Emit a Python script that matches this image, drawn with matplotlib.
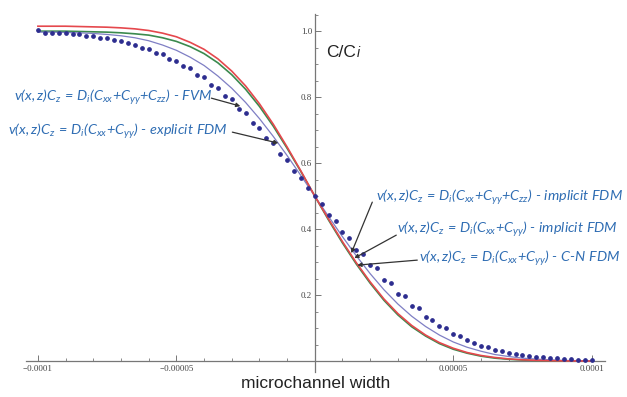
import numpy as np
import matplotlib
matplotlib.use("Agg")
import matplotlib.pyplot as plt
from matplotlib.ticker import MultipleLocator, FixedLocator

# ---------------- data ----------------
x_line = [-1.0e-4, -9.5e-5, -9.0e-5, -8.5e-5, -8.0e-5, -7.5e-5, -7.0e-5, -6.5e-5, -6.0e-5, -5.5e-5,
          -5.0e-5, -4.5e-5, -4.0e-5, -3.5e-5, -3.0e-5, -2.5e-5, -2.0e-5, -1.5e-5, -1.0e-5, -5.0e-6,
          0.0, 5.0e-6, 1.0e-5, 1.5e-5, 2.0e-5, 2.5e-5, 3.0e-5, 3.5e-5, 4.0e-5, 4.5e-5,
          5.0e-5, 5.5e-5, 6.0e-5, 6.5e-5, 7.0e-5, 7.5e-5, 8.0e-5, 8.5e-5, 9.0e-5, 9.5e-5, 1.0e-4]

red_vals = [1.015, 1.015, 1.015, 1.014, 1.013, 1.012, 1.010, 1.007, 1.002, 0.994,
            0.983, 0.966, 0.945, 0.916, 0.879, 0.834, 0.780, 0.718, 0.649, 0.576,
            0.500, 0.430, 0.362, 0.298, 0.240, 0.188, 0.144, 0.108, 0.079, 0.056,
            0.039, 0.026, 0.017, 0.011, 0.0067, 0.0040, 0.0023, 0.0013, 0.0007, 0.0004, 0.0002]

green_vals = [1.000, 1.000, 1.000, 0.999, 0.998, 0.997, 0.995, 0.992, 0.988, 0.980,
              0.969, 0.953, 0.932, 0.904, 0.868, 0.824, 0.772, 0.712, 0.645, 0.574,
              0.500, 0.427, 0.358, 0.294, 0.236, 0.184, 0.140, 0.104, 0.076, 0.053,
              0.036, 0.024, 0.015, 0.009, 0.0055, 0.0032, 0.0018, 0.0010, 0.0005, 0.0003, 0.0001]

purple_vals = [0.997, 0.997, 0.996, 0.995, 0.993, 0.990, 0.986, 0.980, 0.971, 0.958,
               0.942, 0.921, 0.896, 0.864, 0.827, 0.784, 0.735, 0.681, 0.623, 0.562,
               0.500, 0.438, 0.377, 0.319, 0.265, 0.216, 0.173, 0.136, 0.105, 0.079,
               0.058, 0.042, 0.030, 0.020, 0.014, 0.009, 0.006, 0.004, 0.0023, 0.0014, 0.0008]

x_dots = [-1.0e-4 + 2.5e-6 * i for i in range(81)]
dot_vals = [1.005, 0.994, 0.995, 0.993, 0.994, 0.991, 0.990, 0.986, 0.985, 0.980,
            0.978, 0.972, 0.969, 0.963, 0.959, 0.950, 0.946, 0.935, 0.930, 0.917,
            0.910, 0.893, 0.888, 0.868, 0.860, 0.836, 0.828, 0.802, 0.793, 0.765,
            0.752, 0.722, 0.708, 0.676, 0.660, 0.628, 0.608, 0.577, 0.556, 0.524,
            0.500, 0.476, 0.444, 0.425, 0.391, 0.372, 0.338, 0.325, 0.291, 0.282,
            0.246, 0.238, 0.204, 0.197, 0.168, 0.160, 0.134, 0.126, 0.106, 0.100,
            0.082, 0.075, 0.063, 0.056, 0.047, 0.042, 0.035, 0.031, 0.025, 0.022,
            0.018, 0.016, 0.012, 0.011, 0.008, 0.008, 0.006, 0.005, 0.004, 0.003, 0.003]

x_ticks_major = [-1.0e-4, -5.0e-5, 5.0e-5, 1.0e-4]
x_tick_labels = ["\u22120.0001", "\u22120.00005", "0.00005", "0.0001"]
y_ticks_major = [0.2, 0.4, 0.6, 0.8, 1.0]
y_tick_labels = ["0.2", "0.4", "0.6", "0.8", "1.0"]

labels = [
    r"$v(x,z)C_z\,=\,D_i(C_{xx}{+}C_{yy}{+}C_{zz})\ \text{-}\ FVM$",
    r"$v(x,z)C_z\,=\,D_i(C_{xx}{+}C_{yy})\ \text{-}\ explicit\ FDM$",
    r"$v(x,z)C_z\,=\,D_i(C_{xx}{+}C_{yy}{+}C_{zz})\ \text{-}\ implicit\ FDM$",
    r"$v(x,z)C_z\,=\,D_i(C_{xx}{+}C_{yy})\ \text{-}\ implicit\ FDM$",
    r"$v(x,z)C_z\,=\,D_i(C_{xx}{+}C_{yy})\ \text{-}\ C\text{-}N\ FDM$",
]

# ---------------- style ----------------
plt.rcParams['mathtext.fontset'] = 'custom'
plt.rcParams['mathtext.rm'] = 'Lato:italic'
plt.rcParams['mathtext.it'] = 'Lato:italic'
plt.rcParams['mathtext.bf'] = 'Lato:italic:bold'

W, H = 627, 397
fig = plt.figure(figsize=(W / 100, H / 100), dpi=100)
fig.patch.set_facecolor('white')
ax = fig.add_axes([26 / W, (H - 372) / H, 579 / W, 358 / H])
ax.set_facecolor('none')

ax.set_xlim(-1.043e-4, 1.048e-4)
ax.set_ylim(-0.033, 1.052)

for s in ['top', 'right']:
    ax.spines[s].set_visible(False)
ax.spines['left'].set_position(('data', 0))
ax.spines['bottom'].set_position(('data', 0))
for s in ['left', 'bottom']:
    ax.spines[s].set_color('#777777')
    ax.spines[s].set_linewidth(0.9)

ax.xaxis.set_major_locator(FixedLocator(x_ticks_major))
ax.xaxis.set_minor_locator(MultipleLocator(1e-5))
ax.set_xticklabels(x_tick_labels)
ax.yaxis.set_major_locator(FixedLocator(y_ticks_major))
ax.yaxis.set_minor_locator(MultipleLocator(0.05))
ax.set_yticklabels(y_tick_labels)
ax.tick_params(axis='x', which='both', direction='in', colors='#777777', labelcolor='#444444',
               labelsize=6.5, pad=3)
ax.tick_params(axis='y', which='both', direction='in', colors='#777777', labelcolor='#444444',
               labelsize=6.5, pad=2)
ax.tick_params(which='major', length=4, width=0.7)
ax.tick_params(which='minor', length=2.5, width=0.6)
for lab in ax.get_xticklabels() + ax.get_yticklabels():
    lab.set_fontfamily('Liberation Serif')

# ---------------- marks ----------------
ax.plot(x_line, green_vals, color='#3b8a4e', lw=1.2, zorder=3)
ax.plot(x_line, red_vals, color='#e5484d', lw=1.2, zorder=4)
ax.plot(x_line, purple_vals, color='#7f7fc4', lw=0.9, zorder=3)
ax.plot(x_dots, dot_vals, linestyle='none', marker='o', ms=2.4, color='#2d2d8f', zorder=5)

# ---------------- text ----------------
def d(px, py):
    return ((px - 315.5) / 2.77e6, (361 - py) / 330.0)

blue = '#2f6db3'
text_pos = [(15, 97), (9, 131), (377, 197), (398, 229), (420, 258)]
arrows = [((212, 98), (241, 106)),
          ((233, 132), (279, 143)),
          ((373, 202), (352, 253)),
          ((397, 235), (355, 258)),
          ((418, 260), (358, 265))]
for lab, (tx, ty) in zip(labels, text_pos):
    ax.text(*d(tx, ty), lab, color=blue, fontsize=10.4, ha='left', va='center', zorder=6)
for (t0, t1) in arrows:
    ax.annotate('', xy=d(*t1), xytext=d(*t0),
                arrowprops=dict(arrowstyle='-|>', color='#333333', lw=0.9,
                                mutation_scale=6, shrinkA=0, shrinkB=0), zorder=6)

ax.text(*d(327, 57), "C/C", fontsize=12.5, family='Liberation Sans', color='#222222',
        ha='left', va='baseline')
ax.text(*d(357, 57), "i", fontsize=10, family='Liberation Sans', style='italic',
        color='#222222', ha='left', va='baseline')

fig.text(316 / W, (H - 383) / H, "microchannel width", fontsize=12.5, family='Liberation Sans',
         color='#222222', ha='center', va='center')

fig.savefig('out.png', dpi=100)
